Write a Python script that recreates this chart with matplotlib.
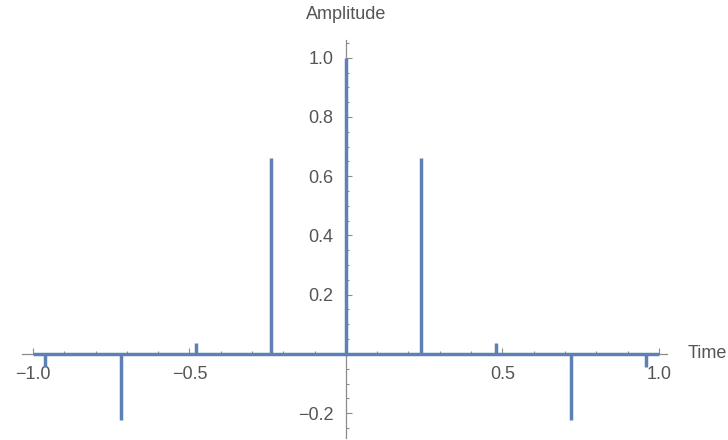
import matplotlib.pyplot as plt
from matplotlib.ticker import MultipleLocator, FixedLocator
import numpy as np

# spike positions and amplitudes
times = [-0.96, -0.72, -0.48, -0.24, 0.0, 0.24, 0.48, 0.72, 0.96]
amps = [-0.045, -0.222, 0.037, 0.66, 1.0, 0.66, 0.037, -0.222, -0.045]
x_ticks = [-1.0, -0.5, 0.5, 1.0]
y_ticks = [-0.2, 0.2, 0.4, 0.6, 0.8, 1.0]

plt.rcParams['font.family'] = ['Liberation Sans', 'DejaVu Sans']
blue = '#5E81B5'
gray = '#8c8c8c'
text_gray = '#555555'

fig = plt.figure(figsize=(7.28, 4.4), dpi=100)
ax = fig.add_axes([22 / 728, 2 / 440, 645 / 728, 398 / 440])

# baseline and spikes
ax.plot([-1.0, 1.0], [0, 0], color=blue, lw=2.5, solid_capstyle='butt', zorder=3)
ax.vlines(times, 0, amps, color=blue, lw=2.5, zorder=3)

ax.set_xlim(-1.035, 1.026)
ax.set_ylim(-0.284, 1.06)

# Mathematica style axes crossing at origin
for s in ['top', 'right']:
    ax.spines[s].set_visible(False)
ax.spines['left'].set_position(('data', 0))
ax.spines['bottom'].set_position(('data', 0))
for s in ['left', 'bottom']:
    ax.spines[s].set_color(gray)
    ax.spines[s].set_linewidth(0.9)

ax.xaxis.set_major_locator(FixedLocator(x_ticks))
ax.xaxis.set_minor_locator(MultipleLocator(0.1))
ax.yaxis.set_major_locator(FixedLocator(y_ticks))
ax.yaxis.set_minor_locator(MultipleLocator(0.05))
ax.set_xticklabels([f'{v:.1f}'.replace('-', '\u2212') for v in x_ticks])
ax.set_yticklabels([f'{v:.1f}'.replace('-', '\u2212') for v in y_ticks])

ax.tick_params(which='both', direction='in', color=gray, width=0.8,
               labelcolor=text_gray, labelsize=13)
ax.tick_params(which='major', length=4)
ax.tick_params(which='minor', length=2.5)
ax.tick_params(axis='x', which='major', pad=9)
ax.tick_params(axis='y', which='major', pad=9)

ax.text(1.093, 0, 'Time', transform=ax.transData, ha='left', va='center',
        fontsize=13, color=text_gray, clip_on=False)
ax.text(0, 1.145, 'Amplitude', transform=ax.transData, ha='center', va='center',
        fontsize=13, color=text_gray, clip_on=False)

fig.savefig('out.png', dpi=100)
